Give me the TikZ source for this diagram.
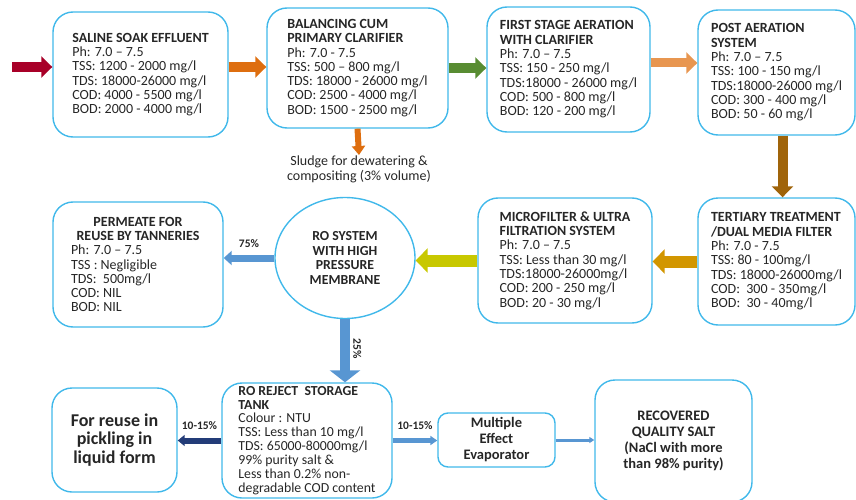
\documentclass[tikz,border=0pt]{standalone}
\usepackage{fontspec}
\setmainfont{Carlito}
\usetikzlibrary{arrows.meta, positioning, shapes.geometric}
\definecolor{bordeAzul}{RGB}{64,184,234}
\definecolor{rojoOsc}{RGB}{168,0,40}
\definecolor{naranja}{RGB}{222,110,15}
\definecolor{verde}{RGB}{88,140,50}
\definecolor{naranjaClaro}{RGB}{232,150,80}
\definecolor{cafe}{RGB}{160,100,10}
\definecolor{dorado}{RGB}{210,150,0}
\definecolor{amarillo}{RGB}{200,200,0}
\definecolor{azul}{RGB}{88,150,210}
\definecolor{marino}{RGB}{35,60,120}

\begin{document}
\begin{tikzpicture}[x=1pt, y=-1pt,
        etapa/.style={rectangle, rounded corners=20pt, draw=bordeAzul, line width=1.4pt, align=flush left, inner sep=0pt, text=black!85, font=\fontsize{14}{14.3}\selectfont},
        titulo/.style={etapa, align=center, font=\fontsize{14.5}{16}\selectfont\bfseries},
        flecha/.style={line width=10pt, -{Triangle[length=11pt, width=21pt]}},
        pct/.style={font=\fontsize{11.5}{12}\selectfont\bfseries, text=black!85}]
        \useasboundingbox (0,0) rectangle (856,500);
        % primera fila
        \node[etapa, minimum width=175pt, minimum height=125pt] (sal) at (140.5,74.5) {\textbf{SALINE SOAK EFFLUENT}\\Ph: 7.0 – 7.5\\TSS: 1200 - 2000 mg/l\\TDS: 18000-26000 mg/l\\COD: 4000 - 5500 mg/l\\BOD: 2000 - 4000 mg/l};
        \node[etapa, minimum width=181pt, minimum height=120pt] (bal) at (357.5,68) {\textbf{BALANCING CUM}\\\textbf{PRIMARY CLARIFIER}\\Ph: 7.0 - 7.5\\TSS: 500 – 800 mg/l\\TDS: 18000 - 26000 mg/l\\COD: 2500 - 4000 mg/l\\BOD: 1500 - 2500 mg/l};
        \node[etapa, minimum width=163pt, minimum height=125pt] (aer) at (568.5,69.5) {\textbf{FIRST STAGE AERATION}\\\textbf{WITH CLARIFIER}\\Ph: 7.0 – 7.5\\TSS: 150 - 250 mg/l\\TDS:18000 - 26000 mg/l\\COD: 500 - 800 mg/l\\BOD: 120 - 200 mg/l};
        \node[etapa, minimum width=157pt, minimum height=125pt] (post) at (776.5,72.5) {\textbf{POST AERATION}\\\textbf{SYSTEM}\\Ph: 7.0 – 7.5\\TSS: 100 - 150 mg/l\\TDS:18000-26000 mg/l\\COD: 300 - 400 mg/l\\BOD: 50 - 60 mg/l};
        \node[font=\fontsize{14}{14.5}\selectfont, text=black!85, align=center, anchor=north, inner sep=1pt] (slu) at (359,155) {Sludge for dewatering \&\\compositing (3\% volume)};
        % segunda fila
        \node[etapa, minimum width=157pt, minimum height=127pt] (ter) at (776.5,261.5) {\textbf{TERTIARY TREATMENT}\\\textbf{/DUAL MEDIA FILTER}\\Ph: 7.0 - 7.5\\TSS: 80 - 100mg/l\\TDS: 18000-26000mg/l\\COD:\ \ 300 - 350mg/l\\BOD:\ \ 30 - 40mg/l};
        \node[etapa, minimum width=174pt, minimum height=125pt] (mf) at (565,260.5) {\textbf{MICROFILTER \& ULTRA}\\\textbf{FILTRATION SYSTEM}\\Ph: 7.0 – 7.5\\TSS: Less than 30 mg/l\\TDS:18000-26000mg/l\\COD: 200 - 250 mg/l\\BOD: 20 - 30 mg/l};
        \node[titulo, ellipse, minimum width=140pt, minimum height=121pt, font=\fontsize{13.8}{14.5}\selectfont\bfseries] (ro) at (345,258) {RO SYSTEM\\WITH HIGH\\PRESSURE\\MEMBRANE};
        \node[etapa, minimum width=170pt, minimum height=125pt, text width=134pt] (perm) at (138,264.5) {\makebox[\hsize]{\textbf{PERMEATE FOR}}\\\makebox[\hsize]{\textbf{REUSE BY TANNERIES}}\\Ph: 7.0 – 7.5\\TSS : Negligible\\TDS:\ \ 500mg/l\\COD: NIL\\BOD: NIL};
        % tercera fila
        \node[etapa, minimum width=170pt, minimum height=115pt, font=\fontsize{13.8}{13.9}\selectfont] (rej) at (307,440.5) {\textbf{RO REJECT\ \ STORAGE}\\\textbf{TANK}\\Colour : NTU\\TSS: Less than 10 mg/l\\TDS: 65000-80000mg/l\\99\% purity salt \&\\Less than 0.2\% non-\\degradable COD content};
        \node[titulo, minimum width=125pt, minimum height=104pt, font=\fontsize{18}{18.5}\selectfont\bfseries] (pick) at (114.5,440) {For reuse in\\pickling in\\liquid form};
        \node[titulo, rounded corners=10pt, minimum width=117pt, minimum height=54pt] (mee) at (496.5,440) {Multiple\\Effect\\Evaporator};
        \node[titulo, minimum width=157pt, minimum height=122pt] (salt) at (673.5,441) {RECOVERED\\QUALITY SALT\\(NaCl with more\\than 98\% purity)};
        \coordinate (ent) at (12,67);
        % flechas
        \draw[flecha, rojoOsc] (ent) -- ([yshift=7.5pt]sal.west);
        \draw[flecha, naranja] ([yshift=7.5pt]sal.east) -- ([yshift=7.5pt]sal.east -| bal.west);
        \draw[flecha, verde] (bal.east) -- (bal.east -| aer.west);
        \draw[flecha, naranjaClaro, line width=9pt] ([yshift=6.5pt]aer.east) -- ([yshift=6.5pt]aer.east -| post.west);
        \draw[flecha, naranja, line width=6pt, -{Triangle[length=9pt, width=13pt]}] (bal.south) -- (slu.north);
        \draw[flecha, cafe] ([xshift=6pt]post.south) -- ([xshift=6pt]post.south |- ter.north);
        \draw[flecha, dorado, line width=12pt, -{Triangle[length=12pt, width=24pt]}] (ter.west) -- (ter.west -| mf.east);
        \draw[flecha, amarillo, line width=12pt, -{Triangle[length=12pt, width=24pt]}] (mf.west) -- (ro.east |- mf.west);
        \draw[flecha, azul, line width=7pt, -{Triangle[length=8pt, width=14pt]}] (ro.west) -- node[pct, above=4pt] {75\%} (ro.west -| perm.east);
        \draw[flecha, azul, -{Triangle[length=12pt, width=30pt]}] (ro.south) -- node[pct, pos=0.36, rotate=-90, anchor=south, xshift=7pt] {25\%} (ro.south |- rej.north);
        \draw[flecha, marino, line width=6pt, -{Triangle[length=7pt, width=11pt]}] (rej.west) -- node[pct, above=5pt] {10-15\%} (rej.west -| pick.east);
        \draw[flecha, azul, line width=5pt, -{Triangle[length=7pt, width=9pt]}] (rej.east) -- node[pct, above=5pt] {10-15\%} (rej.east -| mee.west);
        \draw[flecha, azul, line width=3pt, -{Triangle[length=5pt, width=6pt]}] (mee.east) -- (mee.east -| salt.west);
    \end{tikzpicture}
\end{document}
